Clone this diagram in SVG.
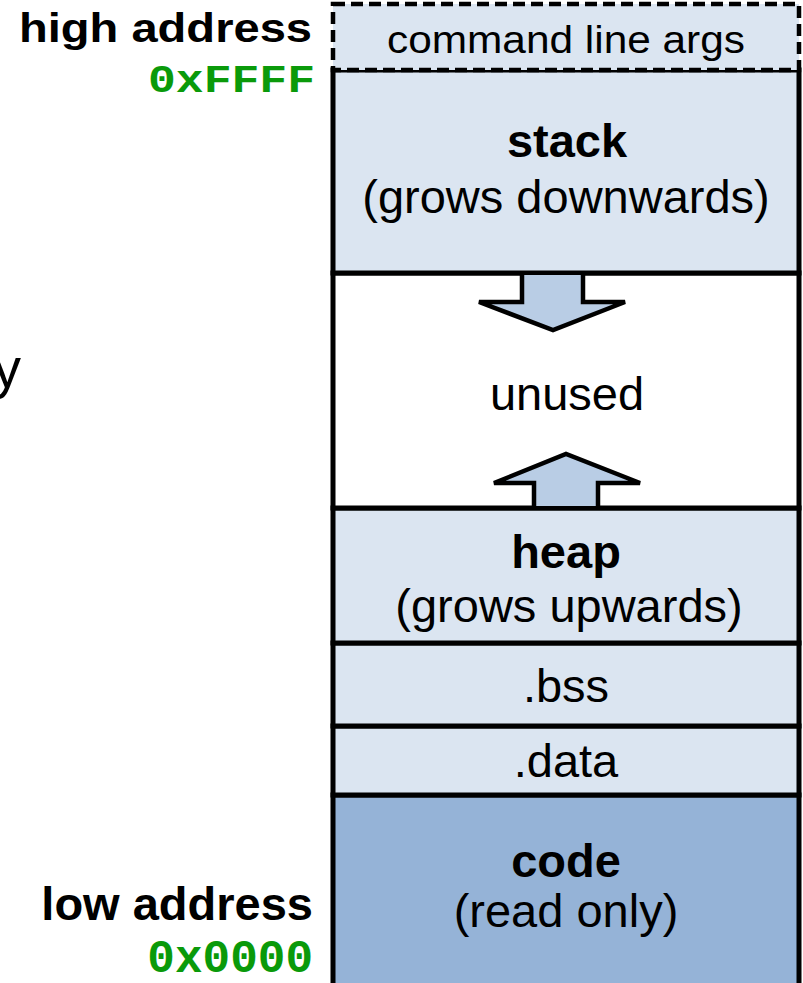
<svg xmlns="http://www.w3.org/2000/svg" width="803" height="983" viewBox="0 0 803 983">
<style>
.seg{fill:#dbe5f1;stroke:#000;stroke-width:5}
.t{font-family:"Liberation Sans",Arial,sans-serif;font-size:47px;fill:#000;text-anchor:middle}
.b{font-weight:bold}
.lbl{font-family:"Liberation Sans",Arial,sans-serif;font-weight:bold;fill:#000;text-anchor:end}
.hex{font-family:"Liberation Mono","Courier New",monospace;font-weight:bold;fill:#0a9a0a;text-anchor:end}
.arr{fill:#b9cde5;stroke:#000;stroke-width:4.5;stroke-linejoin:miter}
</style>
<rect width="803" height="983" fill="#fff"/>
<g id="cut-label"><text x="21" y="387" style="font-family:'Liberation Sans',Arial,sans-serif;font-size:56px;text-anchor:end">y</text></g>
<g id="code"><rect class="seg" x="333" y="795" width="466" height="200" style="fill:#95b3d7"/>
<text class="t b" x="566" y="877">code</text><text class="t" x="566" y="927">(read only)</text></g>
<g id="data"><rect class="seg" x="333" y="726" width="466" height="69"/><text class="t" x="566" y="777">.data</text></g>
<g id="bss"><rect class="seg" x="333" y="643" width="466" height="83"/><text class="t" x="566" y="702">.bss</text></g>
<g id="heap"><rect class="seg" x="333" y="508" width="466" height="135"/>
<text class="t b" x="566" y="568">heap</text><text class="t" x="569" y="622">(grows upwards)</text></g>
<g id="unused"><rect class="seg" x="333" y="273" width="466" height="235" style="fill:#fff"/><text class="t" x="567" y="410">unused</text></g>
<g id="stack"><rect class="seg" x="333" y="70" width="466" height="203"/>
<text class="t b" x="567" y="157">stack</text><text class="t" x="566" y="213">(grows downwards)</text></g>
<g id="args"><rect class="seg" x="333" y="4" width="466" height="66" style="stroke-dasharray:12 6;stroke-width:4.5"/>
<text class="t" x="566" y="53" style="font-size:38px" textLength="358" lengthAdjust="spacingAndGlyphs">command line args</text></g>
<g id="arrows">
<path class="arr" d="M522,275 L522,302 L479,302 L553,330 L625,302 L583,302 L583,275"/>
<path class="arr" d="M534,506 L534,483 L494,483 L566,454 L640,483 L598,483 L598,506"/>
</g>
<g id="labels">
<text class="lbl" x="312" y="42" style="font-size:41px" textLength="293" lengthAdjust="spacingAndGlyphs">high address</text>
<text class="hex" x="315" y="92" style="font-size:38px" textLength="167" lengthAdjust="spacingAndGlyphs">0xFFFF</text>
<text class="lbl" x="313" y="920" style="font-size:47px">low address</text>
<text class="hex" x="313" y="972" style="font-size:46px">0x0000</text>
</g>
</svg>
